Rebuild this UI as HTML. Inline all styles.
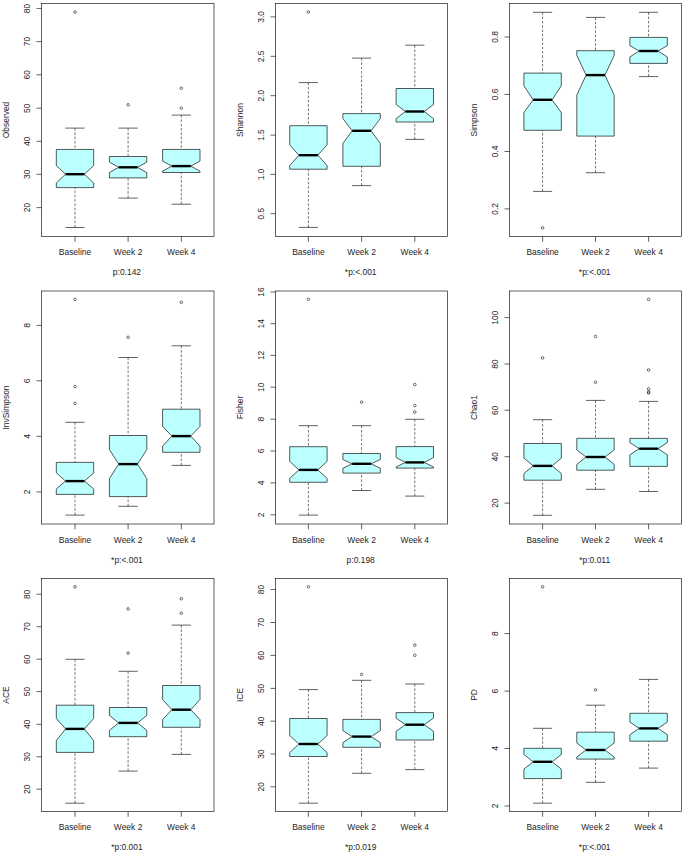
<!DOCTYPE html>
<html><head><meta charset="utf-8"><title>Alpha diversity boxplots</title>
<style>
html,body{margin:0;padding:0;background:#fff;}
body{width:685px;height:857px;overflow:hidden;}
svg{display:block;}
text{font-family:"Liberation Sans",sans-serif;font-size:8.45px;fill:#1e1e1e;}
.fr{fill:none;stroke:#000;stroke-width:0.62;}
.tk{stroke:#000;stroke-width:0.62;}
.bx{fill:#BBFFFF;stroke:#000;stroke-width:0.65;stroke-linejoin:miter;}
.md{stroke:#000;stroke-width:2.4;}
.wh{stroke:#000;stroke-width:0.55;stroke-dasharray:2.6 1.7;}
.st{stroke:#000;stroke-width:0.62;}
.ol{fill:none;stroke:#222;stroke-width:0.65;}
</style></head>
<body>
<svg width="685" height="857" viewBox="0 0 685 857">
<rect width="685" height="857" fill="#fff"/>
<line x1="75" y1="128.1" x2="75" y2="149.45" class="wh"/>
<line x1="75" y1="227.5" x2="75" y2="187.6" class="wh"/>
<line x1="65.4" y1="128.1" x2="84.6" y2="128.1" class="st"/>
<line x1="65.4" y1="227.5" x2="84.6" y2="227.5" class="st"/>
<polygon points="56.3,187.6 56.3,183 65.55,174.2 56.3,165.6 56.3,149.45 93.7,149.45 93.7,165.6 84.45,174.2 93.7,183 93.7,187.6" class="bx"/>
<line x1="65.55" y1="174.2" x2="84.45" y2="174.2" class="md"/>
<circle cx="75" cy="12.1" r="1.3" class="ol"/>
<line x1="128.1" y1="128.1" x2="128.1" y2="156.5" class="wh"/>
<line x1="128.1" y1="198.1" x2="128.1" y2="177.9" class="wh"/>
<line x1="118.5" y1="128.1" x2="137.7" y2="128.1" class="st"/>
<line x1="118.5" y1="198.1" x2="137.7" y2="198.1" class="st"/>
<polygon points="109.4,177.9 109.4,172.6 118.65,167.3 109.4,162.1 109.4,156.5 146.8,156.5 146.8,162.1 137.55,167.3 146.8,172.6 146.8,177.9" class="bx"/>
<line x1="118.65" y1="167.3" x2="137.55" y2="167.3" class="md"/>
<circle cx="128.1" cy="104.8" r="1.3" class="ol"/>
<line x1="181.3" y1="115.1" x2="181.3" y2="149.45" class="wh"/>
<line x1="181.3" y1="204.2" x2="181.3" y2="172.5" class="wh"/>
<line x1="171.7" y1="115.1" x2="190.9" y2="115.1" class="st"/>
<line x1="171.7" y1="204.2" x2="190.9" y2="204.2" class="st"/>
<polygon points="162.6,172.5 162.6,171.1 171.85,166.1 162.6,161.1 162.6,149.45 200,149.45 200,161.1 190.75,166.1 200,171.1 200,172.5" class="bx"/>
<line x1="171.85" y1="166.1" x2="190.75" y2="166.1" class="md"/>
<circle cx="181.3" cy="88.2" r="1.3" class="ol"/>
<circle cx="181.3" cy="108.2" r="1.3" class="ol"/>
<rect x="41.5" y="3.5" width="172.5" height="233" class="fr"/>
<line x1="36.5" y1="8.45" x2="41.5" y2="8.45" class="tk"/>
<text transform="translate(29.8 8.45) rotate(-90) scale(1 1.08)" text-anchor="middle">80</text>
<line x1="36.5" y1="41.6" x2="41.5" y2="41.6" class="tk"/>
<text transform="translate(29.8 41.6) rotate(-90) scale(1 1.08)" text-anchor="middle">70</text>
<line x1="36.5" y1="74.8" x2="41.5" y2="74.8" class="tk"/>
<text transform="translate(29.8 74.8) rotate(-90) scale(1 1.08)" text-anchor="middle">60</text>
<line x1="36.5" y1="108.2" x2="41.5" y2="108.2" class="tk"/>
<text transform="translate(29.8 108.2) rotate(-90) scale(1 1.08)" text-anchor="middle">50</text>
<line x1="36.5" y1="141.3" x2="41.5" y2="141.3" class="tk"/>
<text transform="translate(29.8 141.3) rotate(-90) scale(1 1.08)" text-anchor="middle">40</text>
<line x1="36.5" y1="174.3" x2="41.5" y2="174.3" class="tk"/>
<text transform="translate(29.8 174.3) rotate(-90) scale(1 1.08)" text-anchor="middle">30</text>
<line x1="36.5" y1="207.6" x2="41.5" y2="207.6" class="tk"/>
<text transform="translate(29.8 207.6) rotate(-90) scale(1 1.08)" text-anchor="middle">20</text>
<line x1="75" y1="236.5" x2="75" y2="241.8" class="tk"/>
<text transform="translate(75 255.1) scale(1 1.08)" text-anchor="middle">Baseline</text>
<line x1="128.1" y1="236.5" x2="128.1" y2="241.8" class="tk"/>
<text transform="translate(128.1 255.1) scale(1 1.08)" text-anchor="middle">Week 2</text>
<line x1="181.3" y1="236.5" x2="181.3" y2="241.8" class="tk"/>
<text transform="translate(181.3 255.1) scale(1 1.08)" text-anchor="middle">Week 4</text>
<text transform="translate(9.2 120) rotate(-90) scale(1 1.08)" text-anchor="middle">Observed</text>
<text transform="translate(126.95 275.4) scale(1 1.08)" text-anchor="middle">p:0.142</text>
<line x1="308.4" y1="82.6" x2="308.4" y2="125.7" class="wh"/>
<line x1="308.4" y1="227.4" x2="308.4" y2="169.2" class="wh"/>
<line x1="298.8" y1="82.6" x2="318" y2="82.6" class="st"/>
<line x1="298.8" y1="227.4" x2="318" y2="227.4" class="st"/>
<polygon points="289.7,169.2 289.7,165.6 298.95,155.2 289.7,144.9 289.7,125.7 327.1,125.7 327.1,144.9 317.85,155.2 327.1,165.6 327.1,169.2" class="bx"/>
<line x1="298.95" y1="155.2" x2="317.85" y2="155.2" class="md"/>
<circle cx="308.4" cy="12" r="1.3" class="ol"/>
<line x1="361.6" y1="58.1" x2="361.6" y2="113.6" class="wh"/>
<line x1="361.6" y1="185.6" x2="361.6" y2="166.3" class="wh"/>
<line x1="352" y1="58.1" x2="371.2" y2="58.1" class="st"/>
<line x1="352" y1="185.6" x2="371.2" y2="185.6" class="st"/>
<polygon points="342.9,166.3 342.9,143.4 352.15,130.8 342.9,118.5 342.9,113.6 380.3,113.6 380.3,118.5 371.05,130.8 380.3,143.4 380.3,166.3" class="bx"/>
<line x1="352.15" y1="130.8" x2="371.05" y2="130.8" class="md"/>
<line x1="414.8" y1="45.2" x2="414.8" y2="88.5" class="wh"/>
<line x1="414.8" y1="139.4" x2="414.8" y2="122" class="wh"/>
<line x1="405.2" y1="45.2" x2="424.4" y2="45.2" class="st"/>
<line x1="405.2" y1="139.4" x2="424.4" y2="139.4" class="st"/>
<polygon points="396.1,122 396.1,118.7 405.35,111.5 396.1,104.5 396.1,88.5 433.5,88.5 433.5,104.5 424.25,111.5 433.5,118.7 433.5,122" class="bx"/>
<line x1="405.35" y1="111.5" x2="424.25" y2="111.5" class="md"/>
<rect x="275.5" y="3.5" width="172" height="233" class="fr"/>
<line x1="270.5" y1="16.9" x2="275.5" y2="16.9" class="tk"/>
<text transform="translate(263.8 16.9) rotate(-90) scale(1 1.08)" text-anchor="middle">3.0</text>
<line x1="270.5" y1="56.3" x2="275.5" y2="56.3" class="tk"/>
<text transform="translate(263.8 56.3) rotate(-90) scale(1 1.08)" text-anchor="middle">2.5</text>
<line x1="270.5" y1="95.7" x2="275.5" y2="95.7" class="tk"/>
<text transform="translate(263.8 95.7) rotate(-90) scale(1 1.08)" text-anchor="middle">2.0</text>
<line x1="270.5" y1="135.1" x2="275.5" y2="135.1" class="tk"/>
<text transform="translate(263.8 135.1) rotate(-90) scale(1 1.08)" text-anchor="middle">1.5</text>
<line x1="270.5" y1="174.4" x2="275.5" y2="174.4" class="tk"/>
<text transform="translate(263.8 174.4) rotate(-90) scale(1 1.08)" text-anchor="middle">1.0</text>
<line x1="270.5" y1="213.7" x2="275.5" y2="213.7" class="tk"/>
<text transform="translate(263.8 213.7) rotate(-90) scale(1 1.08)" text-anchor="middle">0.5</text>
<line x1="308.4" y1="236.5" x2="308.4" y2="241.8" class="tk"/>
<text transform="translate(308.4 255.1) scale(1 1.08)" text-anchor="middle">Baseline</text>
<line x1="361.6" y1="236.5" x2="361.6" y2="241.8" class="tk"/>
<text transform="translate(361.6 255.1) scale(1 1.08)" text-anchor="middle">Week 2</text>
<line x1="414.8" y1="236.5" x2="414.8" y2="241.8" class="tk"/>
<text transform="translate(414.8 255.1) scale(1 1.08)" text-anchor="middle">Week 4</text>
<text transform="translate(243.2 120) rotate(-90) scale(1 1.08)" text-anchor="middle">Shannon</text>
<text transform="translate(360.7 275.4) scale(1 1.08)" text-anchor="middle">*p:<.001</text>
<line x1="542.6" y1="12.3" x2="542.6" y2="73.1" class="wh"/>
<line x1="542.6" y1="191.4" x2="542.6" y2="130.3" class="wh"/>
<line x1="533" y1="12.3" x2="552.2" y2="12.3" class="st"/>
<line x1="533" y1="191.4" x2="552.2" y2="191.4" class="st"/>
<polygon points="523.9,130.3 523.9,112.6 533.15,99.8 523.9,85.8 523.9,73.1 561.3,73.1 561.3,85.8 552.05,99.8 561.3,112.6 561.3,130.3" class="bx"/>
<line x1="533.15" y1="99.8" x2="552.05" y2="99.8" class="md"/>
<circle cx="542.6" cy="227.9" r="1.3" class="ol"/>
<line x1="595.5" y1="17.4" x2="595.5" y2="50.7" class="wh"/>
<line x1="595.5" y1="172.7" x2="595.5" y2="136.1" class="wh"/>
<line x1="585.9" y1="17.4" x2="605.1" y2="17.4" class="st"/>
<line x1="585.9" y1="172.7" x2="605.1" y2="172.7" class="st"/>
<polygon points="576.8,136.1 576.8,95.2 586.05,75.1 576.8,55.3 576.8,50.7 614.2,50.7 614.2,55.3 604.95,75.1 614.2,95.2 614.2,136.1" class="bx"/>
<line x1="586.05" y1="75.1" x2="604.95" y2="75.1" class="md"/>
<line x1="648.6" y1="12.3" x2="648.6" y2="37.4" class="wh"/>
<line x1="648.6" y1="76.6" x2="648.6" y2="63.4" class="wh"/>
<line x1="639" y1="12.3" x2="658.2" y2="12.3" class="st"/>
<line x1="639" y1="76.6" x2="658.2" y2="76.6" class="st"/>
<polygon points="629.9,63.4 629.9,56.9 639.15,51 629.9,45.6 629.9,37.4 667.3,37.4 667.3,45.6 658.05,51 667.3,56.9 667.3,63.4" class="bx"/>
<line x1="639.15" y1="51" x2="658.05" y2="51" class="md"/>
<rect x="509.5" y="3.5" width="172" height="233" class="fr"/>
<line x1="504.5" y1="37" x2="509.5" y2="37" class="tk"/>
<text transform="translate(497.8 37) rotate(-90) scale(1 1.08)" text-anchor="middle">0.8</text>
<line x1="504.5" y1="94.4" x2="509.5" y2="94.4" class="tk"/>
<text transform="translate(497.8 94.4) rotate(-90) scale(1 1.08)" text-anchor="middle">0.6</text>
<line x1="504.5" y1="151.5" x2="509.5" y2="151.5" class="tk"/>
<text transform="translate(497.8 151.5) rotate(-90) scale(1 1.08)" text-anchor="middle">0.4</text>
<line x1="504.5" y1="208.9" x2="509.5" y2="208.9" class="tk"/>
<text transform="translate(497.8 208.9) rotate(-90) scale(1 1.08)" text-anchor="middle">0.2</text>
<line x1="542.6" y1="236.5" x2="542.6" y2="241.8" class="tk"/>
<text transform="translate(542.6 255.1) scale(1 1.08)" text-anchor="middle">Baseline</text>
<line x1="595.5" y1="236.5" x2="595.5" y2="241.8" class="tk"/>
<text transform="translate(595.5 255.1) scale(1 1.08)" text-anchor="middle">Week 2</text>
<line x1="648.6" y1="236.5" x2="648.6" y2="241.8" class="tk"/>
<text transform="translate(648.6 255.1) scale(1 1.08)" text-anchor="middle">Week 4</text>
<text transform="translate(477.2 120) rotate(-90) scale(1 1.08)" text-anchor="middle">Simpson</text>
<text transform="translate(594.7 275.4) scale(1 1.08)" text-anchor="middle">*p:<.001</text>
<line x1="75" y1="422.3" x2="75" y2="462.4" class="wh"/>
<line x1="75" y1="515.1" x2="75" y2="494.4" class="wh"/>
<line x1="65.4" y1="422.3" x2="84.6" y2="422.3" class="st"/>
<line x1="65.4" y1="515.1" x2="84.6" y2="515.1" class="st"/>
<polygon points="56.3,494.4 56.3,488.9 65.55,481.1 56.3,472.9 56.3,462.4 93.7,462.4 93.7,472.9 84.45,481.1 93.7,488.9 93.7,494.4" class="bx"/>
<line x1="65.55" y1="481.1" x2="84.45" y2="481.1" class="md"/>
<circle cx="75" cy="299.4" r="1.3" class="ol"/>
<circle cx="75" cy="386.6" r="1.3" class="ol"/>
<circle cx="75" cy="403.4" r="1.3" class="ol"/>
<line x1="128.1" y1="357.5" x2="128.1" y2="435.5" class="wh"/>
<line x1="128.1" y1="506.3" x2="128.1" y2="496.6" class="wh"/>
<line x1="118.5" y1="357.5" x2="137.7" y2="357.5" class="st"/>
<line x1="118.5" y1="506.3" x2="137.7" y2="506.3" class="st"/>
<polygon points="109.4,496.6 109.4,478.6 118.65,464.1 109.4,449.6 109.4,435.5 146.8,435.5 146.8,449.6 137.55,464.1 146.8,478.6 146.8,496.6" class="bx"/>
<line x1="118.65" y1="464.1" x2="137.55" y2="464.1" class="md"/>
<circle cx="128.1" cy="337.3" r="1.3" class="ol"/>
<line x1="181.3" y1="345.8" x2="181.3" y2="409.2" class="wh"/>
<line x1="181.3" y1="465.4" x2="181.3" y2="452.3" class="wh"/>
<line x1="171.7" y1="345.8" x2="190.9" y2="345.8" class="st"/>
<line x1="171.7" y1="465.4" x2="190.9" y2="465.4" class="st"/>
<polygon points="162.6,452.3 162.6,446.2 171.85,436.1 162.6,426.4 162.6,409.2 200,409.2 200,426.4 190.75,436.1 200,446.2 200,452.3" class="bx"/>
<line x1="171.85" y1="436.1" x2="190.75" y2="436.1" class="md"/>
<circle cx="181.3" cy="302.3" r="1.3" class="ol"/>
<rect x="41.5" y="291" width="172.5" height="233" class="fr"/>
<line x1="36.5" y1="325.4" x2="41.5" y2="325.4" class="tk"/>
<text transform="translate(29.8 325.4) rotate(-90) scale(1 1.08)" text-anchor="middle">8</text>
<line x1="36.5" y1="380.8" x2="41.5" y2="380.8" class="tk"/>
<text transform="translate(29.8 380.8) rotate(-90) scale(1 1.08)" text-anchor="middle">6</text>
<line x1="36.5" y1="436.3" x2="41.5" y2="436.3" class="tk"/>
<text transform="translate(29.8 436.3) rotate(-90) scale(1 1.08)" text-anchor="middle">4</text>
<line x1="36.5" y1="491.9" x2="41.5" y2="491.9" class="tk"/>
<text transform="translate(29.8 491.9) rotate(-90) scale(1 1.08)" text-anchor="middle">2</text>
<line x1="75" y1="524" x2="75" y2="529.3" class="tk"/>
<text transform="translate(75 542.6) scale(1 1.08)" text-anchor="middle">Baseline</text>
<line x1="128.1" y1="524" x2="128.1" y2="529.3" class="tk"/>
<text transform="translate(128.1 542.6) scale(1 1.08)" text-anchor="middle">Week 2</text>
<line x1="181.3" y1="524" x2="181.3" y2="529.3" class="tk"/>
<text transform="translate(181.3 542.6) scale(1 1.08)" text-anchor="middle">Week 4</text>
<text transform="translate(9.2 407.5) rotate(-90) scale(1 1.08)" text-anchor="middle">InvSimpson</text>
<text transform="translate(126.95 562.9) scale(1 1.08)" text-anchor="middle">*p:<.001</text>
<line x1="308.4" y1="425.7" x2="308.4" y2="446.7" class="wh"/>
<line x1="308.4" y1="515.1" x2="308.4" y2="482.3" class="wh"/>
<line x1="298.8" y1="425.7" x2="318" y2="425.7" class="st"/>
<line x1="298.8" y1="515.1" x2="318" y2="515.1" class="st"/>
<polygon points="289.7,482.3 289.7,478.4 298.95,469.9 289.7,461.4 289.7,446.7 327.1,446.7 327.1,461.4 317.85,469.9 327.1,478.4 327.1,482.3" class="bx"/>
<line x1="298.95" y1="469.9" x2="317.85" y2="469.9" class="md"/>
<circle cx="308.4" cy="299.4" r="1.3" class="ol"/>
<line x1="361.6" y1="425.7" x2="361.6" y2="453.5" class="wh"/>
<line x1="361.6" y1="490.5" x2="361.6" y2="473.1" class="wh"/>
<line x1="352" y1="425.7" x2="371.2" y2="425.7" class="st"/>
<line x1="352" y1="490.5" x2="371.2" y2="490.5" class="st"/>
<polygon points="342.9,473.1 342.9,468.3 352.15,463.8 342.9,459.5 342.9,453.5 380.3,453.5 380.3,459.5 371.05,463.8 380.3,468.3 380.3,473.1" class="bx"/>
<line x1="352.15" y1="463.8" x2="371.05" y2="463.8" class="md"/>
<circle cx="361.6" cy="402.1" r="1.3" class="ol"/>
<line x1="414.8" y1="419.3" x2="414.8" y2="446.6" class="wh"/>
<line x1="414.8" y1="496.1" x2="414.8" y2="468.1" class="wh"/>
<line x1="405.2" y1="419.3" x2="424.4" y2="419.3" class="st"/>
<line x1="405.2" y1="496.1" x2="424.4" y2="496.1" class="st"/>
<polygon points="396.1,468.1 396.1,467 405.35,462.4 396.1,457.5 396.1,446.6 433.5,446.6 433.5,457.5 424.25,462.4 433.5,467 433.5,468.1" class="bx"/>
<line x1="405.35" y1="462.4" x2="424.25" y2="462.4" class="md"/>
<circle cx="414.8" cy="384.6" r="1.3" class="ol"/>
<circle cx="414.8" cy="405.6" r="1.3" class="ol"/>
<circle cx="414.8" cy="412.1" r="1.3" class="ol"/>
<rect x="275.5" y="291" width="172" height="233" class="fr"/>
<line x1="270.5" y1="292" x2="275.5" y2="292" class="tk"/>
<text transform="translate(263.8 292) rotate(-90) scale(1 1.08)" text-anchor="middle">16</text>
<line x1="270.5" y1="323.7" x2="275.5" y2="323.7" class="tk"/>
<text transform="translate(263.8 323.7) rotate(-90) scale(1 1.08)" text-anchor="middle">14</text>
<line x1="270.5" y1="355.4" x2="275.5" y2="355.4" class="tk"/>
<text transform="translate(263.8 355.4) rotate(-90) scale(1 1.08)" text-anchor="middle">12</text>
<line x1="270.5" y1="387.2" x2="275.5" y2="387.2" class="tk"/>
<text transform="translate(263.8 387.2) rotate(-90) scale(1 1.08)" text-anchor="middle">10</text>
<line x1="270.5" y1="419.2" x2="275.5" y2="419.2" class="tk"/>
<text transform="translate(263.8 419.2) rotate(-90) scale(1 1.08)" text-anchor="middle">8</text>
<line x1="270.5" y1="451" x2="275.5" y2="451" class="tk"/>
<text transform="translate(263.8 451) rotate(-90) scale(1 1.08)" text-anchor="middle">6</text>
<line x1="270.5" y1="482.9" x2="275.5" y2="482.9" class="tk"/>
<text transform="translate(263.8 482.9) rotate(-90) scale(1 1.08)" text-anchor="middle">4</text>
<line x1="270.5" y1="514.8" x2="275.5" y2="514.8" class="tk"/>
<text transform="translate(263.8 514.8) rotate(-90) scale(1 1.08)" text-anchor="middle">2</text>
<line x1="308.4" y1="524" x2="308.4" y2="529.3" class="tk"/>
<text transform="translate(308.4 542.6) scale(1 1.08)" text-anchor="middle">Baseline</text>
<line x1="361.6" y1="524" x2="361.6" y2="529.3" class="tk"/>
<text transform="translate(361.6 542.6) scale(1 1.08)" text-anchor="middle">Week 2</text>
<line x1="414.8" y1="524" x2="414.8" y2="529.3" class="tk"/>
<text transform="translate(414.8 542.6) scale(1 1.08)" text-anchor="middle">Week 4</text>
<text transform="translate(243.2 407.5) rotate(-90) scale(1 1.08)" text-anchor="middle">Fisher</text>
<text transform="translate(360.7 562.9) scale(1 1.08)" text-anchor="middle">p:0.198</text>
<line x1="542.6" y1="419.7" x2="542.6" y2="443.5" class="wh"/>
<line x1="542.6" y1="515.3" x2="542.6" y2="480.2" class="wh"/>
<line x1="533" y1="419.7" x2="552.2" y2="419.7" class="st"/>
<line x1="533" y1="515.3" x2="552.2" y2="515.3" class="st"/>
<polygon points="523.9,480.2 523.9,473.5 533.15,465.9 523.9,458.1 523.9,443.5 561.3,443.5 561.3,458.1 552.05,465.9 561.3,473.5 561.3,480.2" class="bx"/>
<line x1="533.15" y1="465.9" x2="552.05" y2="465.9" class="md"/>
<circle cx="542.6" cy="357.9" r="1.3" class="ol"/>
<line x1="595.5" y1="400.4" x2="595.5" y2="438.3" class="wh"/>
<line x1="595.5" y1="489.3" x2="595.5" y2="470.2" class="wh"/>
<line x1="585.9" y1="400.4" x2="605.1" y2="400.4" class="st"/>
<line x1="585.9" y1="489.3" x2="605.1" y2="489.3" class="st"/>
<polygon points="576.8,470.2 576.8,464.4 586.05,457 576.8,449.9 576.8,438.3 614.2,438.3 614.2,449.9 604.95,457 614.2,464.4 614.2,470.2" class="bx"/>
<line x1="586.05" y1="457" x2="604.95" y2="457" class="md"/>
<circle cx="595.5" cy="336.5" r="1.3" class="ol"/>
<circle cx="595.5" cy="382.3" r="1.3" class="ol"/>
<line x1="648.6" y1="401.4" x2="648.6" y2="438.4" class="wh"/>
<line x1="648.6" y1="491.5" x2="648.6" y2="466.4" class="wh"/>
<line x1="639" y1="401.4" x2="658.2" y2="401.4" class="st"/>
<line x1="639" y1="491.5" x2="658.2" y2="491.5" class="st"/>
<polygon points="629.9,466.4 629.9,454.8 639.15,448.7 629.9,442.6 629.9,438.4 667.3,438.4 667.3,442.6 658.05,448.7 667.3,454.8 667.3,466.4" class="bx"/>
<line x1="639.15" y1="448.7" x2="658.05" y2="448.7" class="md"/>
<circle cx="648.6" cy="299.4" r="1.3" class="ol"/>
<circle cx="648.6" cy="370" r="1.3" class="ol"/>
<circle cx="648.6" cy="388.9" r="1.3" class="ol"/>
<circle cx="648.6" cy="391.9" r="1.3" class="ol"/>
<circle cx="648.6" cy="393" r="1.3" class="ol"/>
<rect x="509.5" y="291" width="172" height="233" class="fr"/>
<line x1="504.5" y1="317.6" x2="509.5" y2="317.6" class="tk"/>
<text transform="translate(497.8 317.6) rotate(-90) scale(1 1.08)" text-anchor="middle">100</text>
<line x1="504.5" y1="364" x2="509.5" y2="364" class="tk"/>
<text transform="translate(497.8 364) rotate(-90) scale(1 1.08)" text-anchor="middle">80</text>
<line x1="504.5" y1="410.2" x2="509.5" y2="410.2" class="tk"/>
<text transform="translate(497.8 410.2) rotate(-90) scale(1 1.08)" text-anchor="middle">60</text>
<line x1="504.5" y1="456.7" x2="509.5" y2="456.7" class="tk"/>
<text transform="translate(497.8 456.7) rotate(-90) scale(1 1.08)" text-anchor="middle">40</text>
<line x1="504.5" y1="503.1" x2="509.5" y2="503.1" class="tk"/>
<text transform="translate(497.8 503.1) rotate(-90) scale(1 1.08)" text-anchor="middle">20</text>
<line x1="542.6" y1="524" x2="542.6" y2="529.3" class="tk"/>
<text transform="translate(542.6 542.6) scale(1 1.08)" text-anchor="middle">Baseline</text>
<line x1="595.5" y1="524" x2="595.5" y2="529.3" class="tk"/>
<text transform="translate(595.5 542.6) scale(1 1.08)" text-anchor="middle">Week 2</text>
<line x1="648.6" y1="524" x2="648.6" y2="529.3" class="tk"/>
<text transform="translate(648.6 542.6) scale(1 1.08)" text-anchor="middle">Week 4</text>
<text transform="translate(477.2 407.5) rotate(-90) scale(1 1.08)" text-anchor="middle">Chao1</text>
<text transform="translate(594.7 562.9) scale(1 1.08)" text-anchor="middle">*p:0.011</text>
<line x1="75" y1="659.3" x2="75" y2="705.2" class="wh"/>
<line x1="75" y1="803.2" x2="75" y2="752.4" class="wh"/>
<line x1="65.4" y1="659.3" x2="84.6" y2="659.3" class="st"/>
<line x1="65.4" y1="803.2" x2="84.6" y2="803.2" class="st"/>
<polygon points="56.3,752.4 56.3,740.6 65.55,728.9 56.3,718.4 56.3,705.2 93.7,705.2 93.7,718.4 84.45,728.9 93.7,740.6 93.7,752.4" class="bx"/>
<line x1="65.55" y1="728.9" x2="84.45" y2="728.9" class="md"/>
<circle cx="75" cy="586.8" r="1.3" class="ol"/>
<line x1="128.1" y1="671.3" x2="128.1" y2="707.5" class="wh"/>
<line x1="128.1" y1="771.1" x2="128.1" y2="736.7" class="wh"/>
<line x1="118.5" y1="671.3" x2="137.7" y2="671.3" class="st"/>
<line x1="118.5" y1="771.1" x2="137.7" y2="771.1" class="st"/>
<polygon points="109.4,736.7 109.4,730.4 118.65,722.9 109.4,715.4 109.4,707.5 146.8,707.5 146.8,715.4 137.55,722.9 146.8,730.4 146.8,736.7" class="bx"/>
<line x1="118.65" y1="722.9" x2="137.55" y2="722.9" class="md"/>
<circle cx="128.1" cy="608.9" r="1.3" class="ol"/>
<circle cx="128.1" cy="653.1" r="1.3" class="ol"/>
<line x1="181.3" y1="625.1" x2="181.3" y2="685.5" class="wh"/>
<line x1="181.3" y1="754.4" x2="181.3" y2="727.3" class="wh"/>
<line x1="171.7" y1="625.1" x2="190.9" y2="625.1" class="st"/>
<line x1="171.7" y1="754.4" x2="190.9" y2="754.4" class="st"/>
<polygon points="162.6,727.3 162.6,719.6 171.85,709.7 162.6,699.6 162.6,685.5 200,685.5 200,699.6 190.75,709.7 200,719.6 200,727.3" class="bx"/>
<line x1="171.85" y1="709.7" x2="190.75" y2="709.7" class="md"/>
<circle cx="181.3" cy="598.7" r="1.3" class="ol"/>
<circle cx="181.3" cy="613.2" r="1.3" class="ol"/>
<rect x="41.5" y="578.5" width="172.5" height="233" class="fr"/>
<line x1="36.5" y1="594.2" x2="41.5" y2="594.2" class="tk"/>
<text transform="translate(29.8 594.2) rotate(-90) scale(1 1.08)" text-anchor="middle">80</text>
<line x1="36.5" y1="626.7" x2="41.5" y2="626.7" class="tk"/>
<text transform="translate(29.8 626.7) rotate(-90) scale(1 1.08)" text-anchor="middle">70</text>
<line x1="36.5" y1="659.2" x2="41.5" y2="659.2" class="tk"/>
<text transform="translate(29.8 659.2) rotate(-90) scale(1 1.08)" text-anchor="middle">60</text>
<line x1="36.5" y1="691.6" x2="41.5" y2="691.6" class="tk"/>
<text transform="translate(29.8 691.6) rotate(-90) scale(1 1.08)" text-anchor="middle">50</text>
<line x1="36.5" y1="724.3" x2="41.5" y2="724.3" class="tk"/>
<text transform="translate(29.8 724.3) rotate(-90) scale(1 1.08)" text-anchor="middle">40</text>
<line x1="36.5" y1="756.8" x2="41.5" y2="756.8" class="tk"/>
<text transform="translate(29.8 756.8) rotate(-90) scale(1 1.08)" text-anchor="middle">30</text>
<line x1="36.5" y1="789.2" x2="41.5" y2="789.2" class="tk"/>
<text transform="translate(29.8 789.2) rotate(-90) scale(1 1.08)" text-anchor="middle">20</text>
<line x1="75" y1="811.5" x2="75" y2="816.8" class="tk"/>
<text transform="translate(75 830.1) scale(1 1.08)" text-anchor="middle">Baseline</text>
<line x1="128.1" y1="811.5" x2="128.1" y2="816.8" class="tk"/>
<text transform="translate(128.1 830.1) scale(1 1.08)" text-anchor="middle">Week 2</text>
<line x1="181.3" y1="811.5" x2="181.3" y2="816.8" class="tk"/>
<text transform="translate(181.3 830.1) scale(1 1.08)" text-anchor="middle">Week 4</text>
<text transform="translate(9.2 695) rotate(-90) scale(1 1.08)" text-anchor="middle">ACE</text>
<text transform="translate(126.95 850.4) scale(1 1.08)" text-anchor="middle">*p:0.001</text>
<line x1="308.4" y1="689.6" x2="308.4" y2="718.5" class="wh"/>
<line x1="308.4" y1="803.2" x2="308.4" y2="756.5" class="wh"/>
<line x1="298.8" y1="689.6" x2="318" y2="689.6" class="st"/>
<line x1="298.8" y1="803.2" x2="318" y2="803.2" class="st"/>
<polygon points="289.7,756.5 289.7,752.6 298.95,744 289.7,735.5 289.7,718.5 327.1,718.5 327.1,735.5 317.85,744 327.1,752.6 327.1,756.5" class="bx"/>
<line x1="298.95" y1="744" x2="317.85" y2="744" class="md"/>
<circle cx="308.4" cy="586.8" r="1.3" class="ol"/>
<line x1="361.6" y1="680.3" x2="361.6" y2="719.4" class="wh"/>
<line x1="361.6" y1="773.3" x2="361.6" y2="747.3" class="wh"/>
<line x1="352" y1="680.3" x2="371.2" y2="680.3" class="st"/>
<line x1="352" y1="773.3" x2="371.2" y2="773.3" class="st"/>
<polygon points="342.9,747.3 342.9,742.6 352.15,736.6 342.9,730.6 342.9,719.4 380.3,719.4 380.3,730.6 371.05,736.6 380.3,742.6 380.3,747.3" class="bx"/>
<line x1="352.15" y1="736.6" x2="371.05" y2="736.6" class="md"/>
<circle cx="361.6" cy="674.4" r="1.3" class="ol"/>
<line x1="414.8" y1="684" x2="414.8" y2="712.6" class="wh"/>
<line x1="414.8" y1="769.6" x2="414.8" y2="740" class="wh"/>
<line x1="405.2" y1="684" x2="424.4" y2="684" class="st"/>
<line x1="405.2" y1="769.6" x2="424.4" y2="769.6" class="st"/>
<polygon points="396.1,740 396.1,731.3 405.35,724.7 396.1,718.1 396.1,712.6 433.5,712.6 433.5,718.1 424.25,724.7 433.5,731.3 433.5,740" class="bx"/>
<line x1="405.35" y1="724.7" x2="424.25" y2="724.7" class="md"/>
<circle cx="414.8" cy="645.2" r="1.3" class="ol"/>
<circle cx="414.8" cy="655.3" r="1.3" class="ol"/>
<rect x="275.5" y="578.5" width="172" height="233" class="fr"/>
<line x1="270.5" y1="589.5" x2="275.5" y2="589.5" class="tk"/>
<text transform="translate(263.8 589.5) rotate(-90) scale(1 1.08)" text-anchor="middle">80</text>
<line x1="270.5" y1="622.5" x2="275.5" y2="622.5" class="tk"/>
<text transform="translate(263.8 622.5) rotate(-90) scale(1 1.08)" text-anchor="middle">70</text>
<line x1="270.5" y1="655.4" x2="275.5" y2="655.4" class="tk"/>
<text transform="translate(263.8 655.4) rotate(-90) scale(1 1.08)" text-anchor="middle">60</text>
<line x1="270.5" y1="688.4" x2="275.5" y2="688.4" class="tk"/>
<text transform="translate(263.8 688.4) rotate(-90) scale(1 1.08)" text-anchor="middle">50</text>
<line x1="270.5" y1="721.2" x2="275.5" y2="721.2" class="tk"/>
<text transform="translate(263.8 721.2) rotate(-90) scale(1 1.08)" text-anchor="middle">40</text>
<line x1="270.5" y1="754" x2="275.5" y2="754" class="tk"/>
<text transform="translate(263.8 754) rotate(-90) scale(1 1.08)" text-anchor="middle">30</text>
<line x1="270.5" y1="786.8" x2="275.5" y2="786.8" class="tk"/>
<text transform="translate(263.8 786.8) rotate(-90) scale(1 1.08)" text-anchor="middle">20</text>
<line x1="308.4" y1="811.5" x2="308.4" y2="816.8" class="tk"/>
<text transform="translate(308.4 830.1) scale(1 1.08)" text-anchor="middle">Baseline</text>
<line x1="361.6" y1="811.5" x2="361.6" y2="816.8" class="tk"/>
<text transform="translate(361.6 830.1) scale(1 1.08)" text-anchor="middle">Week 2</text>
<line x1="414.8" y1="811.5" x2="414.8" y2="816.8" class="tk"/>
<text transform="translate(414.8 830.1) scale(1 1.08)" text-anchor="middle">Week 4</text>
<text transform="translate(243.2 695) rotate(-90) scale(1 1.08)" text-anchor="middle">ICE</text>
<text transform="translate(360.7 850.4) scale(1 1.08)" text-anchor="middle">*p:0.019</text>
<line x1="542.6" y1="728.3" x2="542.6" y2="748.3" class="wh"/>
<line x1="542.6" y1="803.2" x2="542.6" y2="778.6" class="wh"/>
<line x1="533" y1="728.3" x2="552.2" y2="728.3" class="st"/>
<line x1="533" y1="803.2" x2="552.2" y2="803.2" class="st"/>
<polygon points="523.9,778.6 523.9,769.1 533.15,761.8 523.9,754.5 523.9,748.3 561.3,748.3 561.3,754.5 552.05,761.8 561.3,769.1 561.3,778.6" class="bx"/>
<line x1="533.15" y1="761.8" x2="552.05" y2="761.8" class="md"/>
<circle cx="542.6" cy="586.8" r="1.3" class="ol"/>
<line x1="595.5" y1="705.2" x2="595.5" y2="732.2" class="wh"/>
<line x1="595.5" y1="782.3" x2="595.5" y2="759.1" class="wh"/>
<line x1="585.9" y1="705.2" x2="605.1" y2="705.2" class="st"/>
<line x1="585.9" y1="782.3" x2="605.1" y2="782.3" class="st"/>
<polygon points="576.8,759.1 576.8,757 586.05,750 576.8,743 576.8,732.2 614.2,732.2 614.2,743 604.95,750 614.2,757 614.2,759.1" class="bx"/>
<line x1="586.05" y1="750" x2="604.95" y2="750" class="md"/>
<circle cx="595.5" cy="689.9" r="1.3" class="ol"/>
<line x1="648.6" y1="679.4" x2="648.6" y2="713.3" class="wh"/>
<line x1="648.6" y1="768.1" x2="648.6" y2="741.2" class="wh"/>
<line x1="639" y1="679.4" x2="658.2" y2="679.4" class="st"/>
<line x1="639" y1="768.1" x2="658.2" y2="768.1" class="st"/>
<polygon points="629.9,741.2 629.9,734.7 639.15,728.4 629.9,722.1 629.9,713.3 667.3,713.3 667.3,722.1 658.05,728.4 667.3,734.7 667.3,741.2" class="bx"/>
<line x1="639.15" y1="728.4" x2="658.05" y2="728.4" class="md"/>
<rect x="509.5" y="578.5" width="172" height="233" class="fr"/>
<line x1="504.5" y1="633.6" x2="509.5" y2="633.6" class="tk"/>
<text transform="translate(497.8 633.6) rotate(-90) scale(1 1.08)" text-anchor="middle">8</text>
<line x1="504.5" y1="691.1" x2="509.5" y2="691.1" class="tk"/>
<text transform="translate(497.8 691.1) rotate(-90) scale(1 1.08)" text-anchor="middle">6</text>
<line x1="504.5" y1="748.5" x2="509.5" y2="748.5" class="tk"/>
<text transform="translate(497.8 748.5) rotate(-90) scale(1 1.08)" text-anchor="middle">4</text>
<line x1="504.5" y1="806" x2="509.5" y2="806" class="tk"/>
<text transform="translate(497.8 806) rotate(-90) scale(1 1.08)" text-anchor="middle">2</text>
<line x1="542.6" y1="811.5" x2="542.6" y2="816.8" class="tk"/>
<text transform="translate(542.6 830.1) scale(1 1.08)" text-anchor="middle">Baseline</text>
<line x1="595.5" y1="811.5" x2="595.5" y2="816.8" class="tk"/>
<text transform="translate(595.5 830.1) scale(1 1.08)" text-anchor="middle">Week 2</text>
<line x1="648.6" y1="811.5" x2="648.6" y2="816.8" class="tk"/>
<text transform="translate(648.6 830.1) scale(1 1.08)" text-anchor="middle">Week 4</text>
<text transform="translate(477.2 695) rotate(-90) scale(1 1.08)" text-anchor="middle">PD</text>
<text transform="translate(594.7 850.4) scale(1 1.08)" text-anchor="middle">*p:<.001</text>
</svg>
</body></html>
